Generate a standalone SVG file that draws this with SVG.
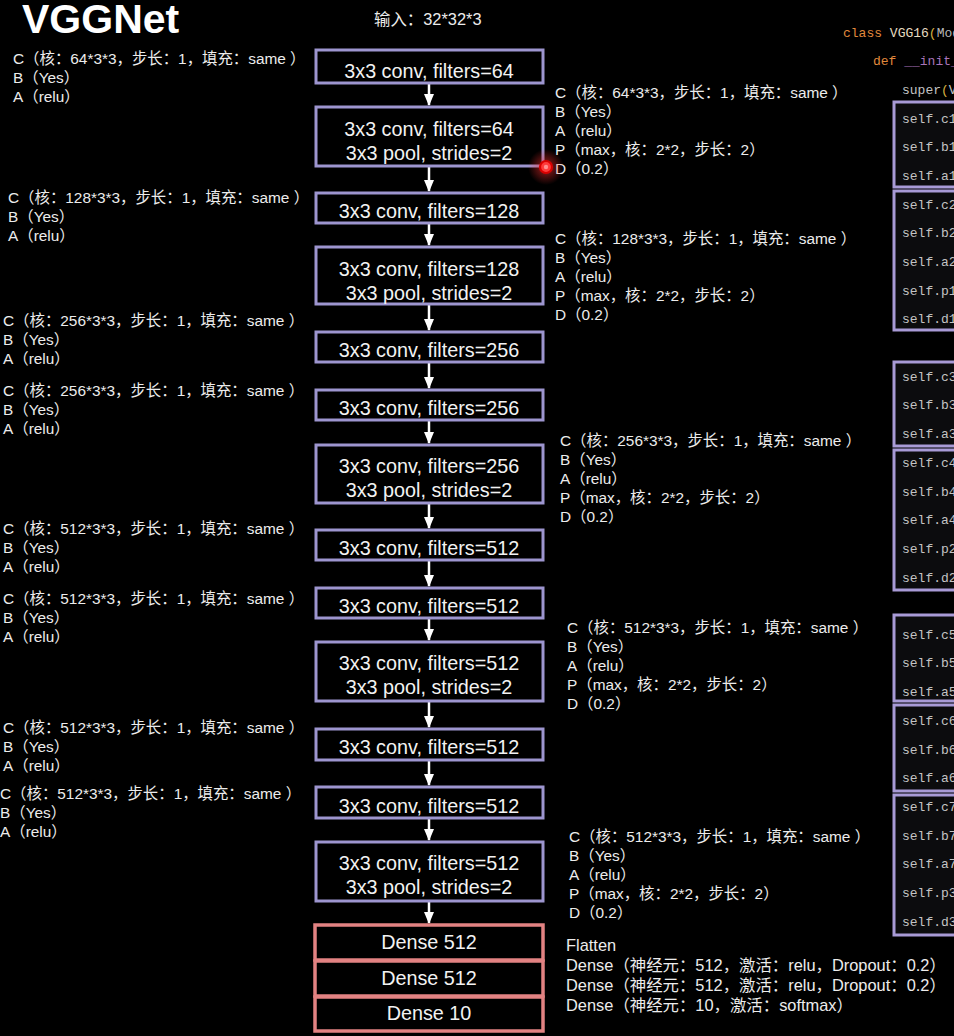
<svg xmlns="http://www.w3.org/2000/svg" width="954" height="1036" viewBox="0 0 954 1036">
<defs>
<style>
.bg{fill:#000}
.box{fill:#000;stroke:#9d95cf;stroke-width:3}
.dbox{fill:#000;stroke:#e28282;stroke-width:3.5}
.bt{font-family:"Liberation Sans","Noto Sans CJK SC",sans-serif;font-size:19.8px;fill:#f2f2f2;text-anchor:middle}
.lt{font-family:"Liberation Sans","Noto Sans CJK SC",sans-serif;font-size:15.4px;fill:#ececec}
.ft{font-family:"Liberation Sans","Noto Sans CJK SC",sans-serif;font-size:16.4px;fill:#ececec}
.title{font-family:"Liberation Sans",sans-serif;font-size:41px;font-weight:bold;fill:#fff}
.cbox{fill:#0c0c0e;stroke:#a89ad6;stroke-width:3}
.code{font-family:"Liberation Mono","DejaVu Sans Mono",monospace;font-size:13px;fill:#c4c4c4}
.arrow{stroke:#fff;stroke-width:2.5;fill:none}
</style>
<marker id="ah" viewBox="0 0 12 10" refX="11" refY="5" markerWidth="12" markerHeight="10" markerUnits="userSpaceOnUse" orient="auto">
<path d="M0,0 L12,5 L0,10 Z" fill="#fff"/>
</marker>
<radialGradient id="glow">
<stop offset="0" stop-color="#ff2020" stop-opacity="0.8"/>
<stop offset="0.45" stop-color="#ff3030" stop-opacity="0.35"/>
<stop offset="1" stop-color="#ff3030" stop-opacity="0"/>
</radialGradient>
</defs>
<rect class="bg" x="0" y="0" width="954" height="1036"/>

<text class="title" x="22" y="33">VGGNet</text>
<text class="lt" x="374" y="25" style="font-size:16.4px">输入：32*32*3</text>

<g id="connectors">
<line class="arrow" x1="429" y1="84" x2="429" y2="105" marker-end="url(#ah)"/>
<line class="arrow" x1="429" y1="167" x2="429" y2="191" marker-end="url(#ah)"/>
<line class="arrow" x1="429" y1="224" x2="429" y2="245" marker-end="url(#ah)"/>
<line class="arrow" x1="429" y1="305" x2="429" y2="330" marker-end="url(#ah)"/>
<line class="arrow" x1="429" y1="363" x2="429" y2="388" marker-end="url(#ah)"/>
<line class="arrow" x1="429" y1="421" x2="429" y2="443" marker-end="url(#ah)"/>
<line class="arrow" x1="429" y1="504" x2="429" y2="528" marker-end="url(#ah)"/>
<line class="arrow" x1="429" y1="561" x2="429" y2="586" marker-end="url(#ah)"/>
<line class="arrow" x1="429" y1="619" x2="429" y2="640" marker-end="url(#ah)"/>
<line class="arrow" x1="429" y1="702" x2="429" y2="727" marker-end="url(#ah)"/>
<line class="arrow" x1="429" y1="761" x2="429" y2="785" marker-end="url(#ah)"/>
<line class="arrow" x1="429" y1="819" x2="429" y2="840" marker-end="url(#ah)"/>
<line class="arrow" x1="429" y1="902" x2="429" y2="923" marker-end="url(#ah)"/>
</g>

<g id="b1"><rect class="box" x="316" y="50" width="227" height="33"/><text class="bt" x="429" y="78">3x3 conv, filters=64</text></g>
<g id="b2"><rect class="box" x="316" y="107" width="227" height="59"/><text class="bt" x="429" y="136">3x3 conv, filters=64</text><text class="bt" x="429" y="160">3x3 pool, strides=2</text></g>
<g id="b3"><rect class="box" x="316" y="193" width="227" height="30"/><text class="bt" x="429" y="218">3x3 conv, filters=128</text></g>
<g id="b4"><rect class="box" x="316" y="247" width="227" height="57"/><text class="bt" x="429" y="276">3x3 conv, filters=128</text><text class="bt" x="429" y="300">3x3 pool, strides=2</text></g>
<g id="b5"><rect class="box" x="316" y="332" width="227" height="30"/><text class="bt" x="429" y="357">3x3 conv, filters=256</text></g>
<g id="b6"><rect class="box" x="316" y="390" width="227" height="30"/><text class="bt" x="429" y="415">3x3 conv, filters=256</text></g>
<g id="b7"><rect class="box" x="316" y="445" width="227" height="58"/><text class="bt" x="429" y="473">3x3 conv, filters=256</text><text class="bt" x="429" y="497">3x3 pool, strides=2</text></g>
<g id="b8"><rect class="box" x="316" y="530" width="227" height="30"/><text class="bt" x="429" y="555">3x3 conv, filters=512</text></g>
<g id="b9"><rect class="box" x="316" y="588" width="227" height="30"/><text class="bt" x="429" y="613">3x3 conv, filters=512</text></g>
<g id="b10"><rect class="box" x="316" y="642" width="227" height="59"/><text class="bt" x="429" y="670">3x3 conv, filters=512</text><text class="bt" x="429" y="694">3x3 pool, strides=2</text></g>
<g id="b11"><rect class="box" x="316" y="729" width="227" height="31"/><text class="bt" x="429" y="754">3x3 conv, filters=512</text></g>
<g id="b12"><rect class="box" x="316" y="787" width="227" height="31"/><text class="bt" x="429" y="813">3x3 conv, filters=512</text></g>
<g id="b13"><rect class="box" x="316" y="842" width="227" height="59"/><text class="bt" x="429" y="870">3x3 conv, filters=512</text><text class="bt" x="429" y="894">3x3 pool, strides=2</text></g>
<g id="d1"><rect class="dbox" x="315" y="925" width="228" height="35"/><text class="bt" x="429" y="949">Dense 512</text></g>
<g id="d2"><rect class="dbox" x="315" y="961" width="228" height="35"/><text class="bt" x="429" y="985">Dense 512</text></g>
<g id="d3"><rect class="dbox" x="315" y="997" width="228" height="34"/><text class="bt" x="429" y="1020">Dense 10</text></g>

<g id="left-notes">
<text class="lt" x="13" y="64">C（核：64*3*3，步长：1，填充：same ）</text>
<text class="lt" x="13" y="83">B（Yes）</text>
<text class="lt" x="13" y="102">A（relu）</text>
<text class="lt" x="8" y="203">C（核：128*3*3，步长：1，填充：same ）</text>
<text class="lt" x="8" y="222">B（Yes）</text>
<text class="lt" x="8" y="241">A（relu）</text>
<text class="lt" x="3" y="326">C（核：256*3*3，步长：1，填充：same ）</text>
<text class="lt" x="3" y="345">B（Yes）</text>
<text class="lt" x="3" y="364">A（relu）</text>
<text class="lt" x="3" y="396">C（核：256*3*3，步长：1，填充：same ）</text>
<text class="lt" x="3" y="415">B（Yes）</text>
<text class="lt" x="3" y="434">A（relu）</text>
<text class="lt" x="3" y="534">C（核：512*3*3，步长：1，填充：same ）</text>
<text class="lt" x="3" y="553">B（Yes）</text>
<text class="lt" x="3" y="572">A（relu）</text>
<text class="lt" x="3" y="604">C（核：512*3*3，步长：1，填充：same ）</text>
<text class="lt" x="3" y="623">B（Yes）</text>
<text class="lt" x="3" y="642">A（relu）</text>
<text class="lt" x="3" y="733">C（核：512*3*3，步长：1，填充：same ）</text>
<text class="lt" x="3" y="752">B（Yes）</text>
<text class="lt" x="3" y="771">A（relu）</text>
<text class="lt" x="0" y="799">C（核：512*3*3，步长：1，填充：same ）</text>
<text class="lt" x="0" y="818">B（Yes）</text>
<text class="lt" x="0" y="837">A（relu）</text>
</g>

<g id="right-notes">
<text class="lt" x="555" y="98">C（核：64*3*3，步长：1，填充：same ）</text>
<text class="lt" x="555" y="117">B（Yes）</text>
<text class="lt" x="555" y="136">A（relu）</text>
<text class="lt" x="555" y="155">P（max，核：2*2，步长：2）</text>
<text class="lt" x="555" y="174">D（0.2）</text>
<text class="lt" x="555" y="244">C（核：128*3*3，步长：1，填充：same ）</text>
<text class="lt" x="555" y="263">B（Yes）</text>
<text class="lt" x="555" y="282">A（relu）</text>
<text class="lt" x="555" y="301">P（max，核：2*2，步长：2）</text>
<text class="lt" x="555" y="320">D（0.2）</text>
<text class="lt" x="560" y="446">C（核：256*3*3，步长：1，填充：same ）</text>
<text class="lt" x="560" y="465">B（Yes）</text>
<text class="lt" x="560" y="484">A（relu）</text>
<text class="lt" x="560" y="503">P（max，核：2*2，步长：2）</text>
<text class="lt" x="560" y="522">D（0.2）</text>
<text class="lt" x="567" y="633">C（核：512*3*3，步长：1，填充：same ）</text>
<text class="lt" x="567" y="652">B（Yes）</text>
<text class="lt" x="567" y="671">A（relu）</text>
<text class="lt" x="567" y="690">P（max，核：2*2，步长：2）</text>
<text class="lt" x="567" y="709">D（0.2）</text>
<text class="lt" x="569" y="842">C（核：512*3*3，步长：1，填充：same ）</text>
<text class="lt" x="569" y="861">B（Yes）</text>
<text class="lt" x="569" y="880">A（relu）</text>
<text class="lt" x="569" y="899">P（max，核：2*2，步长：2）</text>
<text class="lt" x="569" y="918">D（0.2）</text>
<text class="ft" x="566" y="951">Flatten</text>
<text class="ft" x="566" y="971">Dense（神经元：512，激活：relu，Dropout：0.2）</text>
<text class="ft" x="566" y="991">Dense（神经元：512，激活：relu，Dropout：0.2）</text>
<text class="ft" x="566" y="1011">Dense（神经元：10，激活：softmax）</text>
</g>

<g id="pointer">
<circle cx="546" cy="167" r="18" fill="url(#glow)"/>
<circle cx="546" cy="167" r="6" fill="#ff3a3a" stroke="#d80000" stroke-width="2.2"/>
<circle cx="546" cy="167" r="2.2" fill="#ff9090"/>
</g>

<g id="code">
<text class="code" x="843" y="37"><tspan fill="#e0893c">class</tspan> <tspan fill="#e6dcc0">VGG16</tspan><tspan fill="#d8b040">(</tspan><tspan fill="#b8b8b8">Mod</tspan></text>
<text class="code" x="873" y="65"><tspan fill="#e0893c">def</tspan> <tspan fill="#a874b8">__init_</tspan></text>
<text class="code" x="902" y="94">super<tspan fill="#d8b040">(</tspan>V</text>
<g id="cA"><rect class="cbox" x="894" y="102" width="80" height="85"/>
<text class="code" x="902" y="123">self.c1</text><text class="code" x="902" y="151">self.b1</text><text class="code" x="902" y="180">self.a1</text></g>
<g id="cB"><rect class="cbox" x="894" y="191" width="80" height="139"/>
<text class="code" x="902" y="209">self.c2</text><text class="code" x="902" y="237">self.b2</text><text class="code" x="902" y="266">self.a2</text><text class="code" x="902" y="295">self.p1</text><text class="code" x="902" y="323">self.d1</text></g>
<g id="cC"><rect class="cbox" x="894" y="362" width="80" height="84"/>
<text class="code" x="902" y="381">self.c3</text><text class="code" x="902" y="409">self.b3</text><text class="code" x="902" y="438">self.a3</text></g>
<g id="cD"><rect class="cbox" x="894" y="450" width="80" height="140"/>
<text class="code" x="902" y="467">self.c4</text><text class="code" x="902" y="496">self.b4</text><text class="code" x="902" y="524">self.a4</text><text class="code" x="902" y="553">self.p2</text><text class="code" x="902" y="582">self.d2</text></g>
<g id="cE"><rect class="cbox" x="894" y="615" width="80" height="86"/>
<text class="code" x="902" y="639">self.c5</text><text class="code" x="902" y="667">self.b5</text><text class="code" x="902" y="696">self.a5</text></g>
<g id="cF"><rect class="cbox" x="894" y="705" width="80" height="86"/>
<text class="code" x="902" y="725">self.c6</text><text class="code" x="902" y="754">self.b6</text><text class="code" x="902" y="782">self.a6</text></g>
<g id="cG"><rect class="cbox" x="894" y="795" width="80" height="140"/>
<text class="code" x="902" y="811">self.c7</text><text class="code" x="902" y="840">self.b7</text><text class="code" x="902" y="868">self.a7</text><text class="code" x="902" y="897">self.p3</text><text class="code" x="902" y="926">self.d3</text></g>
</g>
</svg>
